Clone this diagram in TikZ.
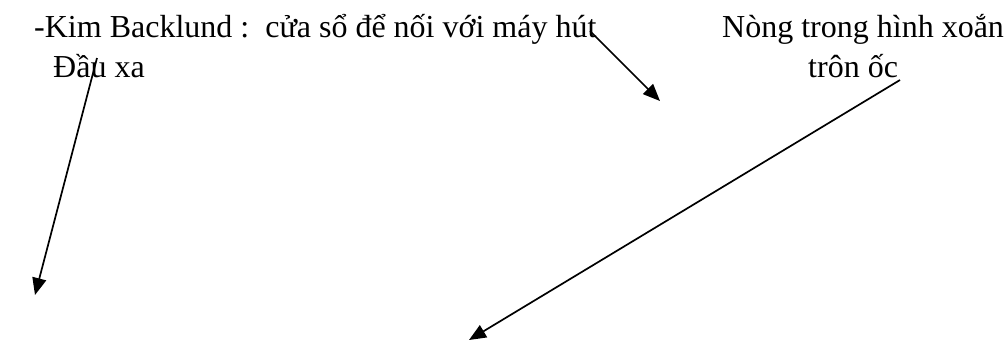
\documentclass[tikz,border=0pt]{standalone}
\usepackage{fontspec}
\setmainfont{Liberation Serif}
\usetikzlibrary{arrows.meta}
\begin{document}
\begin{tikzpicture}[x=1pt,y=-1pt,
  lbl/.style={inner sep=0pt,anchor=base west,font=\fontsize{32}{40}\selectfont},
  pointer/.style={line width=1.7pt,-{Triangle[length=17pt,width=14pt]}}]
\useasboundingbox (0,0) rectangle (1008,341);
\node[lbl] (t1) at (34,37) {-Kim Backlund :\ \ cửa sổ để nối với máy hút};
\node[lbl] (t2) at (53,77) {Đầu xa};
\node[lbl] (t3) at (722,37) {Nòng trong hình xoắn};
\node[lbl] (t4) at (808,77) {trôn ốc};
\coordinate (s1) at (97,58);
\coordinate (e1) at (35,295);
\coordinate (s2) at (590,31);
\coordinate (e2) at (660,101);
\coordinate (s3) at (900,80);
\coordinate (e3) at (469,340);
\draw[pointer] (s1) -- (e1);
\draw[pointer] (s2) -- (e2);
\draw[pointer] (s3) -- (e3);
\end{tikzpicture}
\end{document}
